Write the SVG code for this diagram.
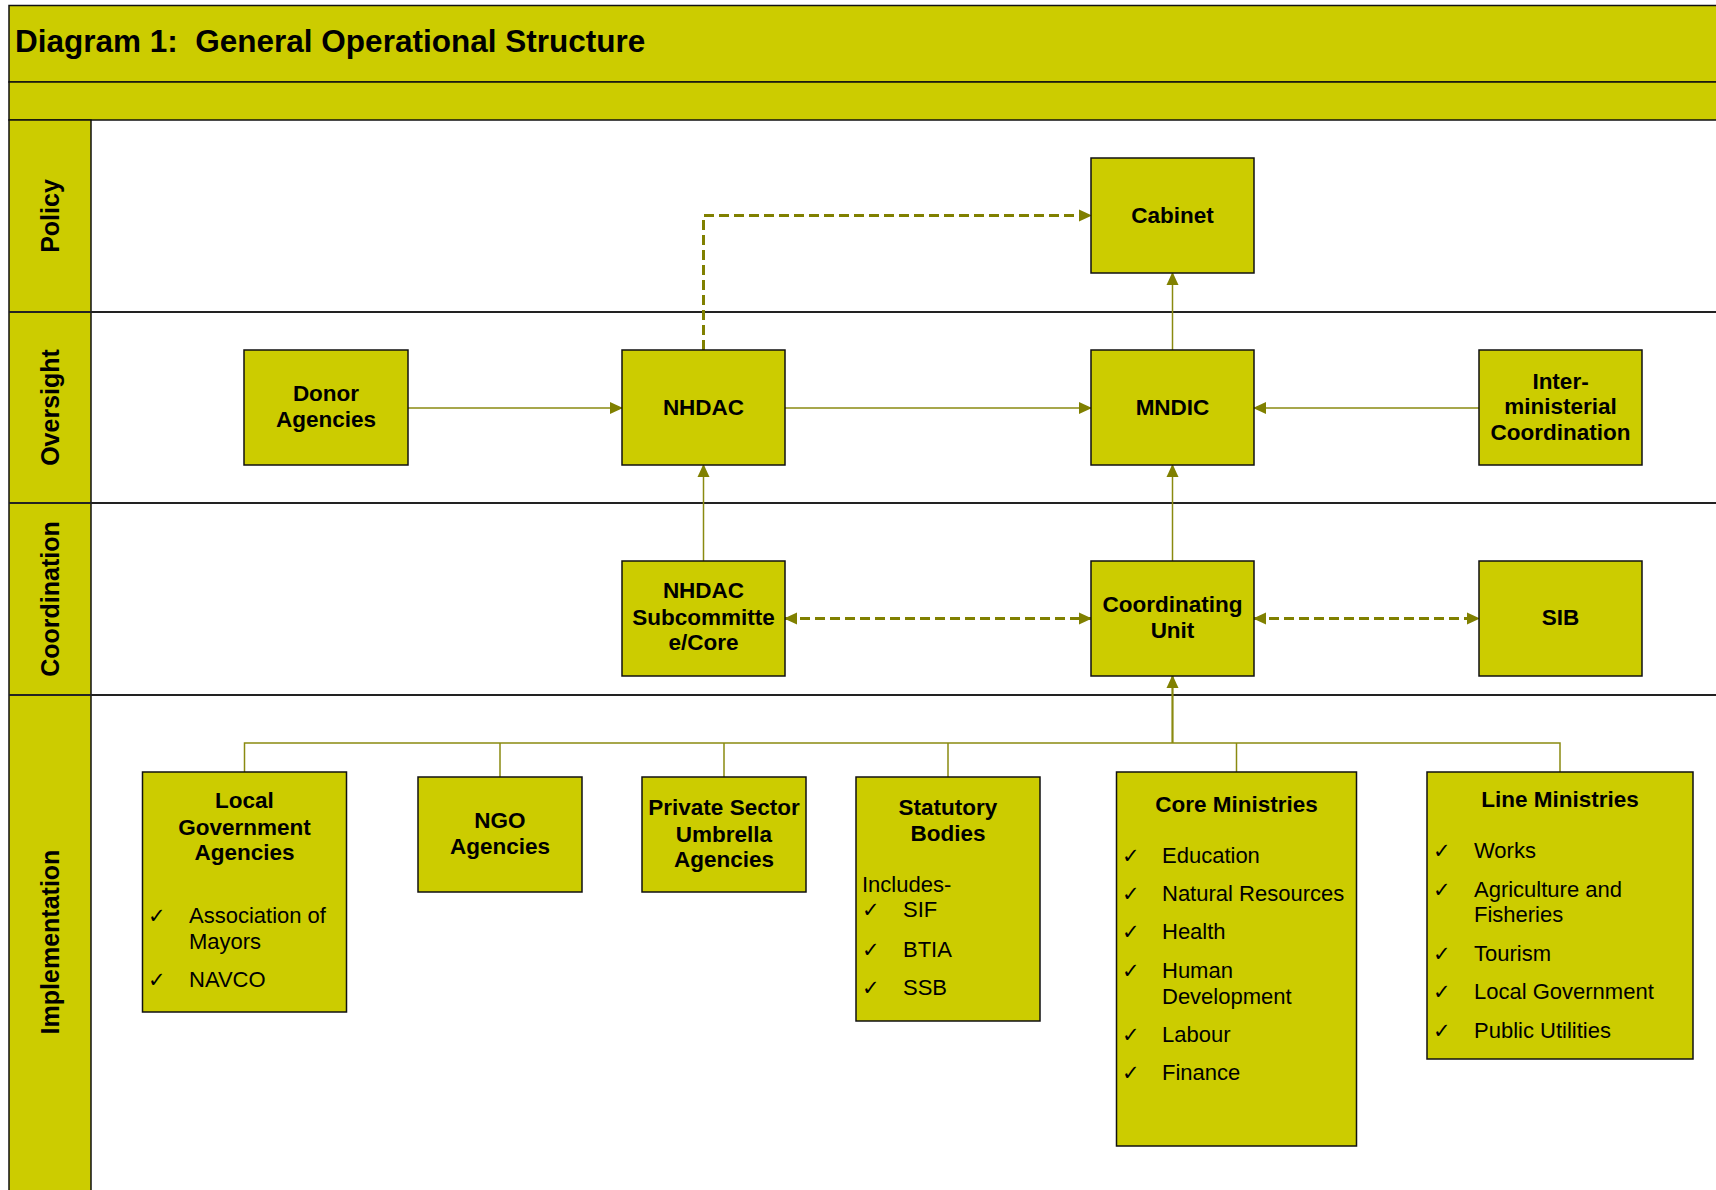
<svg xmlns="http://www.w3.org/2000/svg" width="1716" height="1190" viewBox="0 0 1716 1190">
<defs>
<style>
.band{fill:#CCCC00;stroke:#111;stroke-width:1.5}
.box{fill:#CCCC00;stroke:#111;stroke-width:1.5}
.lane{stroke:#222;stroke-width:2}
.t{font-family:"Liberation Sans",Arial,sans-serif;font-weight:bold;font-size:22.5px;fill:#000;text-anchor:middle}
.r{font-family:"Liberation Sans",Arial,sans-serif;font-size:22px;fill:#000}
.ck{font-family:"DejaVu Sans",sans-serif;font-size:21px;font-weight:bold;fill:#000}
.lab{font-family:"Liberation Sans",Arial,sans-serif;font-weight:bold;font-size:25px;text-anchor:middle;fill:#000}
.title{font-family:"Liberation Sans",Arial,sans-serif;font-weight:bold;font-size:31.5px;fill:#000;white-space:pre}
.sol{stroke:#8A8A10;stroke-width:1.5;fill:none}
.dash{stroke:#808000;stroke-width:3;stroke-dasharray:10 5;fill:none}
</style>
<marker id="ah" markerUnits="userSpaceOnUse" markerWidth="13" markerHeight="13" refX="12" refY="6.5" orient="auto-start-reverse" viewBox="0 0 13 13"><path d="M0,0.5 L13,6.5 L0,12.5 z" fill="#808000"/></marker>
</defs>
<rect x="0" y="0" width="1716" height="1190" fill="#fff"/>
<g id="frame">
<rect class="band" x="9" y="5.5" width="1720" height="76.5"/>
<rect class="band" x="9" y="82" width="1720" height="38"/>
<rect class="band" x="9" y="120" width="82" height="1080"/>
<line class="lane" x1="9" y1="312" x2="1716" y2="312"/>
<line class="lane" x1="9" y1="503" x2="1716" y2="503"/>
<line class="lane" x1="9" y1="695" x2="1716" y2="695"/>
<text class="title" x="15" y="52">Diagram 1:  General Operational Structure</text>
<text class="lab" transform="translate(59,216) rotate(-90)">Policy</text>
<text class="lab" transform="translate(59,407.5) rotate(-90)">Oversight</text>
<text class="lab" transform="translate(59,599) rotate(-90)">Coordination</text>
<text class="lab" transform="translate(59,942) rotate(-90)">Implementation</text>
</g>
<g id="connectors">
<path class="dash" d="M703.5,350 V215.5 H1091" marker-end="url(#ah)"/>
<path class="sol" d="M408,408 H622" marker-end="url(#ah)"/>
<path class="sol" d="M785,408 H1091" marker-end="url(#ah)"/>
<path class="sol" d="M1479,408 H1254" marker-end="url(#ah)"/>
<path class="sol" d="M1172.5,350 V273" marker-end="url(#ah)"/>
<path class="sol" d="M703.5,561 V465" marker-end="url(#ah)"/>
<path class="sol" d="M1172.5,561 V465" marker-end="url(#ah)"/>
<path class="dash" d="M785,618.5 H1091" marker-start="url(#ah)" marker-end="url(#ah)"/>
<path class="dash" d="M1254,618.5 H1479" marker-start="url(#ah)" marker-end="url(#ah)"/>
<path class="sol" style="stroke-width:2.2" d="M1172.5,743 V676" marker-end="url(#ah)"/>
<path class="sol" d="M244.5,772 V743 H1560 V772"/>
<path class="sol" d="M500,743 V777 M724,743 V777 M948,743 V777 M1236.5,743 V772"/>
</g>
<g id="cabinet"><rect class="box" x="1091" y="158" width="163" height="115"/><text class="t" x="1172.5" y="223">Cabinet</text></g>
<g id="donor"><rect class="box" x="244" y="350" width="164" height="115"/><text class="t" x="326" y="401">Donor</text><text class="t" x="326" y="427">Agencies</text></g>
<g id="nhdac"><rect class="box" x="622" y="350" width="163" height="115"/><text class="t" x="703.5" y="415">NHDAC</text></g>
<g id="mndic"><rect class="box" x="1091" y="350" width="163" height="115"/><text class="t" x="1172.5" y="415">MNDIC</text></g>
<g id="inter"><rect class="box" x="1479" y="350" width="163" height="115"/><text class="t" x="1560.5" y="388.5">Inter-</text><text class="t" x="1560.5" y="414">ministerial</text><text class="t" x="1560.5" y="439.5">Coordination</text></g>
<g id="nhdac-sub"><rect class="box" x="622" y="561" width="163" height="115"/><text class="t" x="703.5" y="598">NHDAC</text><text class="t" x="703.5" y="624.5">Subcommitte</text><text class="t" x="703.5" y="650">e/Core</text></g>
<g id="coord-unit"><rect class="box" x="1091" y="561" width="163" height="115"/><text class="t" x="1172.5" y="612">Coordinating</text><text class="t" x="1172.5" y="637.5">Unit</text></g>
<g id="sib"><rect class="box" x="1479" y="561" width="163" height="115"/><text class="t" x="1560.5" y="625">SIB</text></g>
<g id="lga"><rect class="box" x="142.5" y="772" width="204" height="240"/>
<text class="t" x="244.5" y="808">Local</text><text class="t" x="244.5" y="835">Government</text><text class="t" x="244.5" y="860">Agencies</text>
<text class="ck" x="148" y="923">✓</text><text class="r" x="189" y="923">Association of</text><text class="r" x="189" y="949">Mayors</text>
<text class="ck" x="148" y="987">✓</text><text class="r" x="189" y="987">NAVCO</text></g>
<g id="ngo"><rect class="box" x="418" y="777" width="164" height="115"/><text class="t" x="500" y="828">NGO</text><text class="t" x="500" y="853.5">Agencies</text></g>
<g id="private"><rect class="box" x="642" y="777" width="164" height="115"/><text class="t" x="724" y="815">Private Sector</text><text class="t" x="724" y="841.5">Umbrella</text><text class="t" x="724" y="867">Agencies</text></g>
<g id="statutory"><rect class="box" x="856" y="777" width="184" height="244"/>
<text class="t" x="948" y="815">Statutory</text><text class="t" x="948" y="841">Bodies</text>
<text class="r" x="862" y="892">Includes-</text>
<text class="ck" x="862" y="917">✓</text><text class="r" x="903" y="917">SIF</text>
<text class="ck" x="862" y="957">✓</text><text class="r" x="903" y="957">BTIA</text>
<text class="ck" x="862" y="995">✓</text><text class="r" x="903" y="995">SSB</text></g>
<g id="core"><rect class="box" x="1116.5" y="772" width="240" height="374"/>
<text class="t" x="1236.5" y="812">Core Ministries</text>
<text class="ck" x="1122" y="863">✓</text><text class="r" x="1162" y="863">Education</text>
<text class="ck" x="1122" y="901">✓</text><text class="r" x="1162" y="901">Natural Resources</text>
<text class="ck" x="1122" y="939">✓</text><text class="r" x="1162" y="939">Health</text>
<text class="ck" x="1122" y="978">✓</text><text class="r" x="1162" y="978">Human</text><text class="r" x="1162" y="1004">Development</text>
<text class="ck" x="1122" y="1042">✓</text><text class="r" x="1162" y="1042">Labour</text>
<text class="ck" x="1122" y="1080">✓</text><text class="r" x="1162" y="1080">Finance</text></g>
<g id="line"><rect class="box" x="1427" y="772" width="266" height="287"/>
<text class="t" x="1560" y="807">Line Ministries</text>
<text class="ck" x="1433" y="858">✓</text><text class="r" x="1474" y="858">Works</text>
<text class="ck" x="1433" y="897">✓</text><text class="r" x="1474" y="897">Agriculture and</text><text class="r" x="1474" y="922">Fisheries</text>
<text class="ck" x="1433" y="961">✓</text><text class="r" x="1474" y="961">Tourism</text>
<text class="ck" x="1433" y="999">✓</text><text class="r" x="1474" y="999">Local Government</text>
<text class="ck" x="1433" y="1038">✓</text><text class="r" x="1474" y="1038">Public Utilities</text></g>
</svg>
